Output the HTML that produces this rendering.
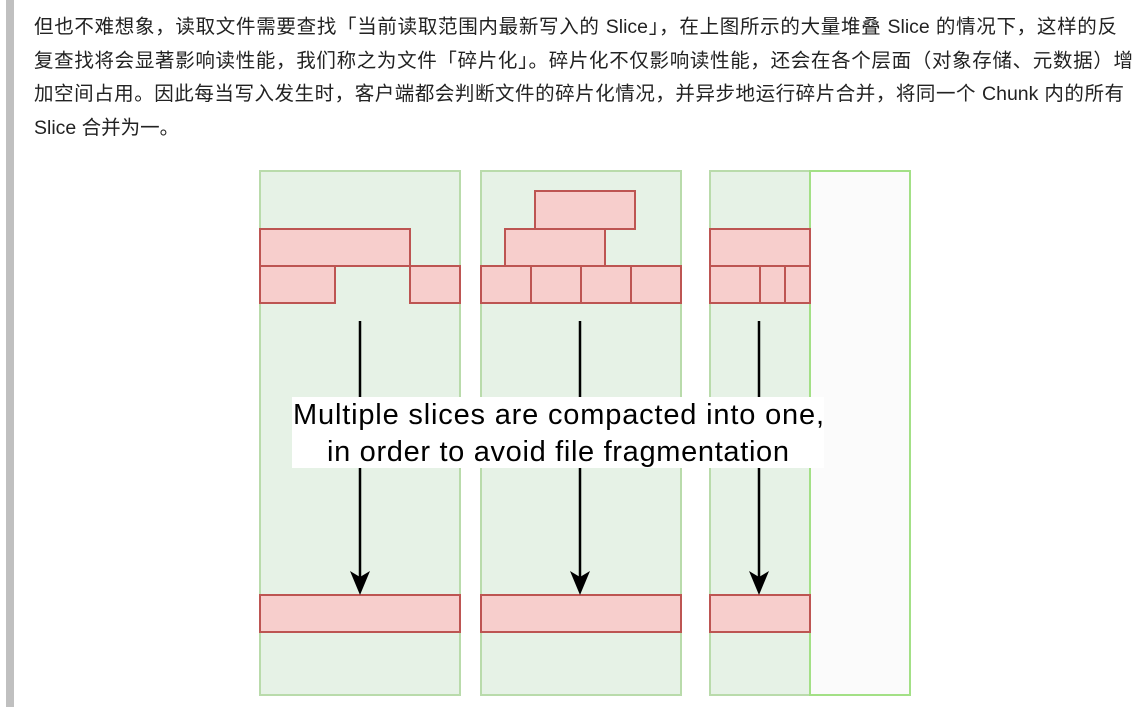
<!DOCTYPE html>
<html><head><meta charset="utf-8">
<style>
html,body{margin:0;padding:0;background:#fff;width:1144px;height:707px;overflow:hidden;position:relative}
.bar{position:absolute;left:6px;top:0;width:8px;height:707px;background:#c0c0c0}
.txt{position:absolute;left:34px;top:11px;font-family:"Liberation Sans","Noto Sans CJK SC",sans-serif;font-size:19.5px;color:#222;line-height:33.5px}
.l{white-space:nowrap;text-align:justify;text-align-last:justify}
svg{position:absolute;left:0;top:0}
</style></head><body>
<div class="bar"></div>
<div class="txt">
<div class="l" style="width:1083px">但也不难想象，读取文件需要查找「当前读取范围内最新写入的 Slice」，在上图所示的大量堆叠 Slice 的情况下，这样的反</div>
<div class="l" style="width:1099px">复查找将会显著影响读性能，我们称之为文件「碎片化」。碎片化不仅影响读性能，还会在各个层面（对象存储、元数据）增</div>
<div class="l" style="width:1090px">加空间占用。因此每当写入发生时，客户端都会判断文件的碎片化情况，并异步地运行碎片合并，将同一个 Chunk 内的所有</div>
<div style="white-space:nowrap">Slice 合并为一。</div>
</div>
<svg width="1144" height="707" viewBox="0 0 1144 707">
<g fill="#e6f2e6" stroke="#b9dbab" stroke-width="2">
<rect x="260" y="171" width="200" height="524"/>
<rect x="481" y="171" width="200" height="524"/>
<rect x="710" y="171" width="100" height="524"/>
</g>
<rect x="810" y="171" width="100" height="524" fill="#fbfbfb" stroke="#a3e086" stroke-width="2"/>
<g fill="#f7cecc" stroke="#bd5552" stroke-width="2">
<rect x="260" y="229" width="150" height="37"/>
<rect x="260" y="266" width="75" height="37"/>
<rect x="410" y="266" width="50" height="37"/>
<rect x="535" y="191" width="100" height="38"/>
<rect x="505" y="229" width="100" height="37"/>
<rect x="481" y="266" width="50" height="37"/>
<rect x="531" y="266" width="50" height="37"/>
<rect x="581" y="266" width="50" height="37"/>
<rect x="631" y="266" width="50" height="37"/>
<rect x="710" y="229" width="100" height="37"/>
<rect x="710" y="266" width="50" height="37"/>
<rect x="760" y="266" width="25" height="37"/>
<rect x="785" y="266" width="25" height="37"/>
<rect x="260" y="595" width="200" height="37"/>
<rect x="481" y="595" width="200" height="37"/>
<rect x="710" y="595" width="100" height="37"/>
</g>
<g stroke="#000" stroke-width="2.5">
<line x1="360" y1="321" x2="360" y2="585"/>
<line x1="580" y1="321" x2="580" y2="585"/>
<line x1="759" y1="321" x2="759" y2="585"/>
</g>
<g fill="#000">
<path d="M360 595 L350 571 L360 577 L370 571 Z"/>
<path d="M580 595 L570 571 L580 577 L590 571 Z"/>
<path d="M759 595 L749 571 L759 577 L769 571 Z"/>
</g>
<rect x="292" y="397" width="532" height="71" fill="#fff"/>
<g font-family="Liberation Sans, Arial, sans-serif" font-size="29" fill="#000">
<text x="293" y="424" textLength="531" lengthAdjust="spacing">Multiple slices are compacted into one,</text>
<text x="327" y="461" textLength="462" lengthAdjust="spacing">in order to avoid file fragmentation</text>
</g>
</svg>
</body></html>
